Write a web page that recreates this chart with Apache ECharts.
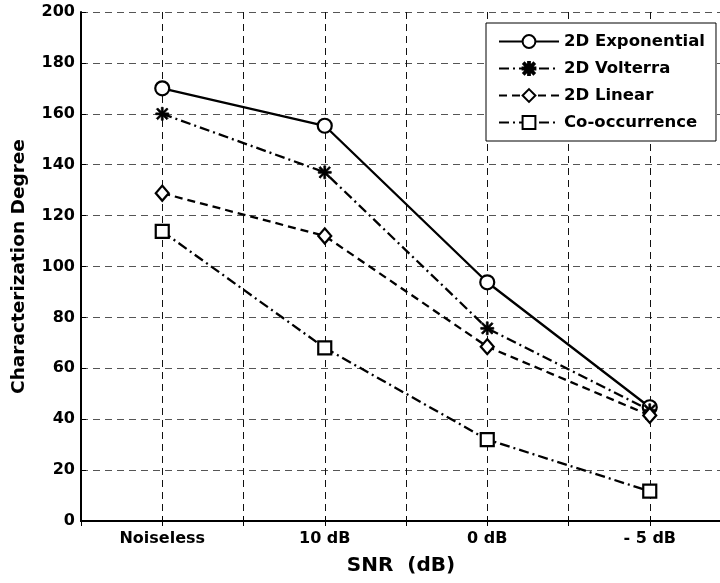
<!DOCTYPE html>
<html>
<head>
    <meta charset="utf-8">
    <title>SNR | ECharts</title>
    <script src="https://cdn.jsdelivr.net/npm/echarts@6/dist/echarts.min.js"></script>
</head>
<body style="margin:0;background:#fff;">
    <div id="main" style="width: 720px;height:583px;"></div>
    <script type="text/javascript">
        // categories along the x axis
        var categories = ['Noiseless', '10 dB', '0 dB', '- 5 dB'];
        // series values
        var expValues = [170, 155.3, 93.8, 44.7];
        var volterraValues = [160, 137, 75.7, 43.5];
        var linearValues = [128.8, 112, 68.5, 41.5];
        var coocValues = [113.8, 68, 32, 11.7];
        var yTicks = [0, 20, 40, 60, 80, 100, 120, 140, 160, 180, 200];

        var font = 'DejaVu Sans, sans-serif';
        // asterisk marker as a filled path
        var starPath = 'path://M0,4.3L10,4.3L10,5.7L0,5.7Z M4.3,0L5.7,0L5.7,10L4.3,10Z M0.5,1.5L1.5,0.5L9.5,8.5L8.5,9.5Z M8.5,0.5L9.5,1.5L1.5,9.5L0.5,8.5Z';

        function pts(vals) {
            return vals.map(function (v, i) { return [i + 1, v]; });
        }

        function mkSeries(name, vals, dash, symbol, size, filled) {
            return {
                name: name,
                type: 'line',
                data: pts(vals),
                symbol: symbol,
                symbolSize: size,
                showAllSymbol: true,
                z: 3,
                lineStyle: { color: '#000', width: 2.3, type: dash },
                itemStyle: {
                    color: filled ? '#000' : '#fff',
                    borderColor: '#000',
                    borderWidth: filled ? 0.8 : 2.2
                }
            };
        }

        var myChart = echarts.init(document.getElementById('main'));

        var option = {
            backgroundColor: '#fff',
            animation: false,
            textStyle: { fontFamily: font, color: '#000' },
            grid: { left: 81, top: 12, width: 650, height: 509, containLabel: false, outerBoundsMode: 'none' },
            legend: {
                orient: 'vertical',
                left: 486, top: 23,
                backgroundColor: '#fff',
                borderColor: '#000',
                borderWidth: 1,
                borderRadius: 0,
                padding: [10, 11, 10, 12],
                itemWidth: 60,
                itemHeight: 16,
                itemGap: 10,
                textStyle: { fontFamily: font, fontWeight: 'bold', fontSize: 16.5, color: '#000' },
                data: ['2D Exponential', '2D Volterra', '2D Linear', 'Co-occurrence']
            },
            xAxis: [{
                type: 'value',
                min: 0.5, max: 4.5, interval: 0.5,
                name: 'SNR  (dB)',
                nameLocation: 'middle',
                nameGap: 35,
                nameTextStyle: { fontFamily: font, fontWeight: 'bold', fontSize: 20, color: '#000', padding: [0, 10, 0, 0] },
                axisLine: { onZero: false, lineStyle: { color: '#000', width: 2 } },
                axisTick: { inside: true, length: 5, lineStyle: { color: '#000' } },
                axisLabel: {
                    margin: 10,
                    fontFamily: font, fontWeight: 'bold', fontSize: 16, color: '#000',
                    formatter: function (v) {
                        return (Number.isInteger(v) && v >= 1 && v <= categories.length) ? categories[v - 1] : '';
                    }
                },
                splitLine: { show: true, lineStyle: { color: '#111', width: 1, type: [7, 5] } }
            }, {
                type: 'value',
                position: 'top',
                min: 0.5, max: 4.5, interval: 0.5,
                axisLine: { lineStyle: { color: '#000', width: 2 } },
                axisTick: { inside: true, length: 5, lineStyle: { color: '#000' } },
                axisLabel: { show: false },
                splitLine: { show: false }
            }],
            yAxis: {
                type: 'value',
                min: yTicks[0], max: yTicks[yTicks.length - 1], interval: yTicks[1] - yTicks[0],
                name: 'Characterization Degree',
                nameLocation: 'middle',
                nameGap: 52,
                nameTextStyle: { fontFamily: font, fontWeight: 'bold', fontSize: 18.5, color: '#000' },
                axisLine: { show: true, lineStyle: { color: '#000', width: 2 } },
                axisTick: { show: true, inside: true, length: 5, lineStyle: { color: '#000' } },
                axisLabel: { margin: 6, fontFamily: font, fontWeight: 'bold', fontSize: 16, color: '#000' },
                splitLine: { show: true, lineStyle: { color: '#555', width: 1, type: [7, 5] } }
            },
            series: [
                mkSeries('2D Exponential', expValues, 'solid', 'circle', 14, false),
                mkSeries('2D Volterra', volterraValues, [10, 4, 2, 4], starPath, 13, true),
                mkSeries('2D Linear', linearValues, [8, 5], 'diamond', [13, 15], false),
                mkSeries('Co-occurrence', coocValues, [10, 4, 2, 4], 'rect', 13, false)
            ]
        };

        myChart.setOption(option);
    </script>
</body>
</html>
